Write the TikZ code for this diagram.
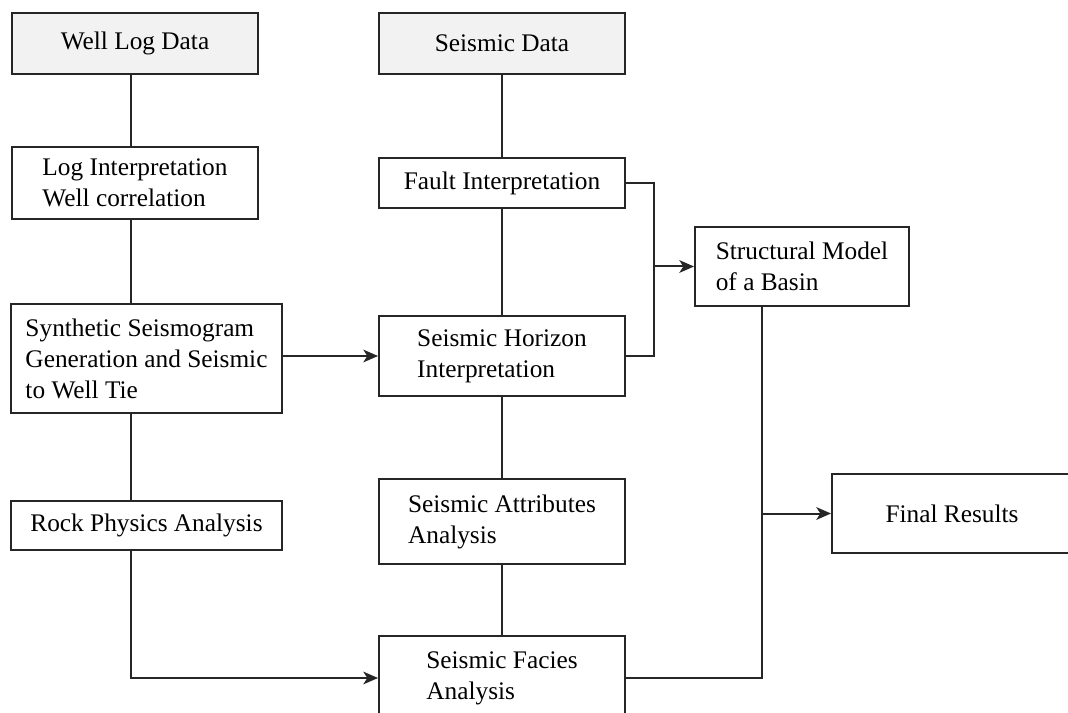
\documentclass[tikz,border=0pt]{standalone}
\usepackage{fontspec}
\setmainfont{Liberation Serif}
\usetikzlibrary{arrows.meta}
\definecolor{boxgray}{HTML}{F2F2F2}
\definecolor{linecol}{HTML}{262626}
\begin{document}
\begin{tikzpicture}[x=0.75pt,y=-0.75pt,
  box/.style={draw=linecol,line width=1.5pt,rectangle,inner sep=0pt,align=left,
    font=\fontsize{19}{23.25}\selectfont,text=black},
  databox/.style={box,fill=boxgray},
  sz/.style n args={2}{minimum width=0.75*#1pt,minimum height=0.75*#2pt},
  conn/.style={draw=linecol,line width=1.5pt},
  arr/.style={conn,-{Stealth[length=11pt,width=9.5pt,inset=3pt]}}]
\clip (0,0) rectangle (1068,713);
\fill[white] (0,0) rectangle (1068,713);
% nodes
\node[databox,sz={246}{61}] (wl) at (135,43.5) {Well Log Data};
\node[databox,sz={246}{61}] (sd) at (502,43.5) {Seismic Data};
\node[box,sz={246}{72}] (li) at (135,183) {Log Interpretation\\Well correlation};
\node[box,sz={246}{50}] (fi) at (502,183) {Fault Interpretation};
\node[box,sz={271}{109}] (syn) at (146.5,358.5) {Synthetic Seismogram\\Generation and Seismic\\to Well Tie};
\node[box,sz={246}{80}] (hor) at (502,356) {Seismic Horizon\\Interpretation};
\node[box,sz={271}{49}] (rock) at (146.5,525.5) {Rock Physics Analysis};
\node[box,sz={246}{85}] (att) at (502,521.5) {Seismic Attributes\\Analysis};
\node[box,sz={246}{84}] (fac) at (502,678) {Seismic Facies\\Analysis};
\node[box,sz={214}{79}] (str) at (802,266.5) {Structural Model\\of a Basin};
\node[box,sz={240}{79}] (fin) at (952,513.5) {Final Results};
% helper columns
\coordinate (lx) at (131,0);
\coordinate (bx) at (654,0);
\coordinate (cx) at (762,0);
% left column
\draw[conn] (wl.south -| lx) -- (li.north -| lx);
\draw[conn] (li.south -| lx) -- (syn.north -| lx);
\draw[conn] (syn.south -| lx) -- (rock.north -| lx);
\draw[arr] (rock.south -| lx) |- (fac.west);
% middle column
\draw[conn] (sd.south) -- (fi.north);
\draw[conn] (fi.south) -- (hor.north);
\draw[conn] (hor.south) -- (att.north);
\draw[conn] (att.south) -- (fac.north);
% cross arrow
\draw[arr] (syn.east |- hor.west) -- (hor.west);
% bracket to structural model
\draw[conn] (fi.east) -| (hor.east -| bx) -- (hor.east);
\draw[arr] (bx |- str.west) -- (str.west);
% bracket to final results
\draw[conn] (str.south -| cx) -- (fac.east -| cx) -- (fac.east);
\draw[arr] (cx |- fin.west) -- (fin.west);
\end{tikzpicture}
\end{document}
